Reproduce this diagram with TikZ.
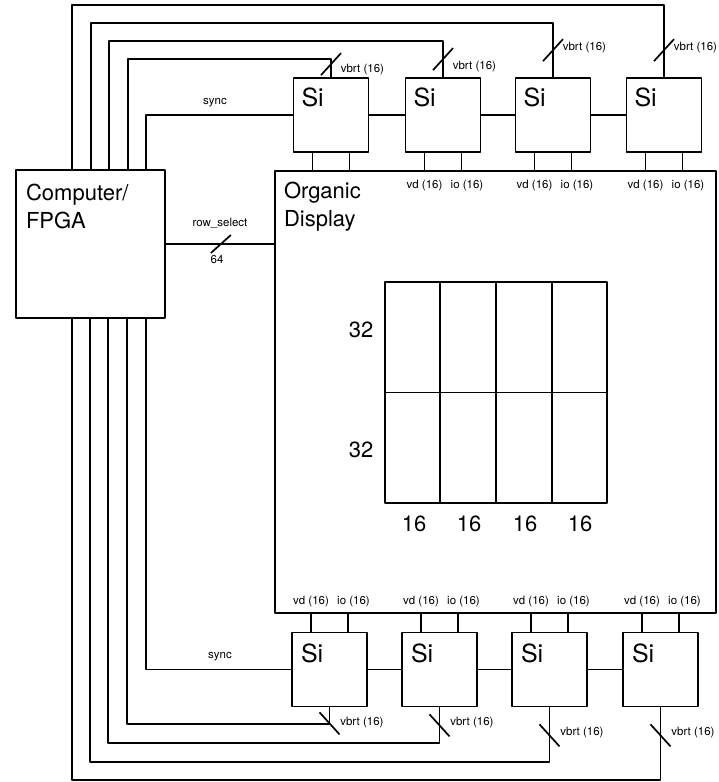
\documentclass[tikz,border=0pt]{standalone}
\usepackage{fontspec}
\setmainfont{TeX Gyre Heros}
\usetikzlibrary{calc}
\begin{document}
\begin{tikzpicture}[x=1pt,y=-1pt,line join=round,line width=1.7pt,
    blk/.style={draw,inner sep=0pt},
    sibox/.style={blk,minimum width=75pt,minimum height=74pt},
    bigtxt/.style={font=\fontsize{22}{28}\selectfont,align=left,inner sep=0pt,anchor=north west},
    sitxt/.style={font=\fontsize{25}{30}\selectfont,inner sep=0pt,anchor=north west},
    numtxt/.style={font=\fontsize{22}{26}\selectfont,inner sep=0pt},
    smalltxt/.style={font=\fontsize{11.5}{13}\selectfont,inner sep=0pt}]
    \useasboundingbox (0,0) rectangle (719,782);
    \node[blk,minimum width=149pt,minimum height=148pt] (fpga) at (90.5,244) {};
    \node[bigtxt] (fpgatxt) at ([shift={(10,14)}]fpga.north west) {Computer/\\FPGA};
    \node[blk,minimum width=441pt,minimum height=442pt] (disp) at (495.5,392) {};
    \node[bigtxt] (disptxt) at ([shift={(9,11)}]disp.north west) {Organic\\Display};
    \node[blk,minimum width=222pt,minimum height=221pt] (panel) at (496,392.5) {};
    \foreach \k in {1,2,3}
    \draw ($(panel.north west)!\k/4!(panel.north east)$) -- ($(panel.south west)!\k/4!(panel.south east)$);
    \draw (panel.west) -- (panel.east);
    \foreach \y in {330,450}
    \node[numtxt] (rows\y) at (361,\y) {32};
    \foreach \x in {414,469,525,580}
    \node[numtxt] (cols\x) at (\x,524) {16};
    % chips above the display
    \foreach \i/\x in {1/331,2/443,3/553,4/664}{
        \node[sibox] (t\i) at (\x,115) {};
        \node[sitxt] (tsi\i) at ([shift={(8,10)}]t\i.north west) {Si};
        \draw ([xshift=-18.5pt]t\i.south) -- ([xshift=-18.5pt]t\i.south |- disp.north);
        \draw ([xshift=18.5pt]t\i.south) -- ([xshift=18.5pt]t\i.south |- disp.north);
    }
    \foreach \i in {2,3,4}{
        \node[smalltxt] (tvd\i) at ($(t\i.south)+(-18.5,33)$) {vd (16)};
        \node[smalltxt] (tio\i) at ($(t\i.south)+(24,33)$) {io (16)};
    }
    \foreach \i/\j in {1/2,2/3,3/4}
    \draw (t\i.east) -- (t\j.west);
    \foreach \i/\cx/\cy/\d/\l in {1/128/59/13/8,2/109/41/18/11,3/91/23/27/30,4/72/5/27/30}{
        \coordinate (tc\i) at (\cx,\cy);
        \draw (t\i.north) |- (tc\i) -- (tc\i |- fpga.north);
        \draw ($(t\i.north)+(0,-\d)$) ++(-10,11) -- ++(20,-22);
        \node[smalltxt,anchor=west] (tvb\i) at ($(t\i.north)+(9,-\l)$) {vbrt (16)};
    }
    \coordinate (tsync) at (146,0);
    \draw (t1.west) -| (tsync |- fpga.north);
    \node[smalltxt] (tsynctxt) at (215,103) {sync};
    % chips below the display
    \foreach \i/\x in {1/329.5,2/439.5,3/549.5,4/660.5}{
        \node[sibox] (b\i) at (\x,669.5) {};
        \node[sitxt] (bsi\i) at ([shift={(9,11)}]b\i.north west) {Si};
        \draw ([xshift=-18.5pt]b\i.north) -- ([xshift=-18.5pt]b\i.north |- disp.south);
        \draw ([xshift=18.5pt]b\i.north) -- ([xshift=18.5pt]b\i.north |- disp.south);
        \node[smalltxt] (bvd\i) at ($(b\i.north)+(-18.5,-30)$) {vd (16)};
        \node[smalltxt] (bio\i) at ($(b\i.north)+(24,-30)$) {io (16)};
    }
    \foreach \i/\j in {1/2,2/3,3/4}
    \draw (b\i.east) -- (b\j.west);
    \foreach \i/\cx/\cy/\d/\l in {1/127/724/16/15,2/108/743/18/15,3/90/762/28/25,4/72/780/28/25}{
        \coordinate (bc\i) at (\cx,\cy);
        \draw (b\i.south) |- (bc\i) -- (bc\i |- fpga.south);
        \draw ($(b\i.south)+(0,\d)$) ++(-10,-11) -- ++(20,22);
        \node[smalltxt,anchor=west] (bvb\i) at ($(b\i.south)+(10,\l)$) {vbrt (16)};
    }
    \coordinate (bsync) at (146,0);
    \draw (b1.west) -| (bsync |- fpga.south);
    \node[smalltxt] (bsynctxt) at (220,657) {sync};
    % row select bus
    \draw (fpga.east) -- (fpga.east -| disp.west);
    \draw ($(fpga.east)+(55,0)$) ++(-10,9) -- ++(20,-18);
    \node[smalltxt] (rowtxt) at (220,223) {row\_select};
    \node[smalltxt] (rowbits) at (217,260) {64};
\end{tikzpicture}
\end{document}
